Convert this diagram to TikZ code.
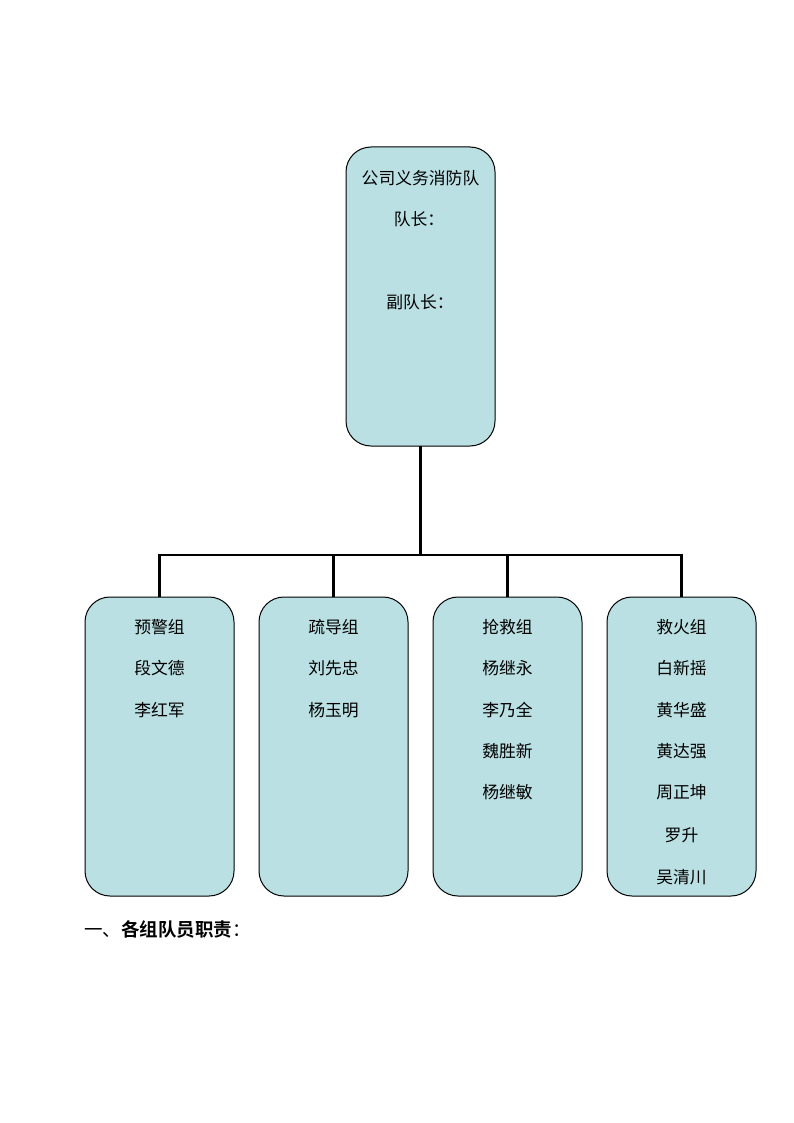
\documentclass[tikz,border=0pt]{standalone}
\usepackage{fontspec}
\setmainfont{Noto Sans CJK SC}
\newfontfamily\cjk{Noto Sans CJK SC}
\newfontfamily\cjkbold{Noto Sans CJK SC Bold}
\begin{document}
\begin{tikzpicture}[x=1pt,y=-1pt,
  box/.style={draw=black,line width=1pt,fill=boxblue,rounded corners=25pt,minimum width=149pt,minimum height=299pt,anchor=north west,inner sep=0pt,outer sep=0pt},
  lbl/.style={font=\cjk\fontsize{16.8}{18}\selectfont,inner sep=0pt,anchor=center},
  conn/.style={line width=2.8pt,draw=black}]
\definecolor{boxblue}{HTML}{BBE0E3}
\useasboundingbox (0,0) rectangle (794,1123);
\fill[white] (0,0) rectangle (794,1123);
% top box
\node[box] (top) at (346,147) {};
\node[lbl] (t1) at (420.5,178) {公司义务消防队};
\node[lbl] (t2) at (419,219) {队长：};
\node[lbl] (t3) at (420,302) {副队长：};
% bottom boxes
\node[box] (b1) at (85,597) {};
\node[box] (b2) at (259,597) {};
\node[box] (b3) at (433,597) {};
\node[box] (b4) at (607,597) {};
\node[lbl] (b1a) at (159.5,627) {预警组};
\node[lbl] (b1b) at (159.5,668) {段文德};
\node[lbl] (b1c) at (159.5,710) {李红军};
\node[lbl] (b2a) at (333.5,627) {疏导组};
\node[lbl] (b2b) at (333.5,668) {刘先忠};
\node[lbl] (b2c) at (333.5,710) {杨玉明};
\node[lbl] (b3a) at (507.5,627) {抢救组};
\node[lbl] (b3b) at (507.5,668) {杨继永};
\node[lbl] (b3c) at (507.5,710) {李乃全};
\node[lbl] (b3d) at (507.5,751) {魏胜新};
\node[lbl] (b3e) at (507.5,792) {杨继敏};
\node[lbl] (b4a) at (681.5,627) {救火组};
\node[lbl] (b4b) at (681.5,668) {白新摇};
\node[lbl] (b4c) at (681.5,710) {黄华盛};
\node[lbl] (b4d) at (681.5,751) {黄达强};
\node[lbl] (b4e) at (681.5,792) {周正坤};
\node[lbl] (b4f) at (681.5,835) {罗升};
\node[lbl] (b4g) at (681.5,877) {吴清川};
% connectors
\coordinate (bar) at (420.5,555);
\draw[conn] (top.south) -- (top.south |- bar);
\draw[conn] (b1.north) -- (b1.north |- bar) -- (b4.north |- bar) -- (b4.north);
\draw[conn] (b2.north) -- (b2.north |- bar);
\draw[conn] (b3.north) -- (b3.north |- bar);
% heading
\node[anchor=west,inner sep=0pt,font=\fontsize{18.5}{20}\selectfont] (head) at (84,929) {{\cjk 一、}{\cjkbold 各组队员职责}{\cjk ：}};
\end{tikzpicture}
\end{document}
